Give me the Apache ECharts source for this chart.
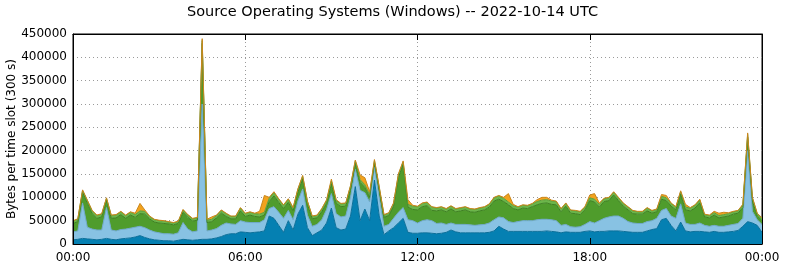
<!DOCTYPE html>
<html>
<head>
<meta charset="utf-8">
<title>Source Operating Systems (Windows)</title>
<script src="https://cdn.jsdelivr.net/npm/echarts@6/dist/echarts.min.js"></script>
<style>
    html, body { margin: 0; padding: 0; background: #fff; }
    #chart { width: 785px; height: 268px; }
</style>
</head>
<body>
<div id="chart"></div>
<script>
    // thousands of bytes per slot, one value every 10 minutes (00:00 .. 24:00), bottom layer first
    var darkBlue = [
        9,10,12,11,10,9,10,12,10,9,
        11,12,13,15,18,14,11,9,8,7,
        7,6,8,10,9,8,9,10,10,11,
        13,16,20,22,22,26,25,24,25,26,
        28,60,55,40,25,50,30,64,83,35,
        18,24,30,45,77,35,30,32,60,123,
        50,75,50,137,60,20,28,35,45,55,
        25,23,23,24,24,23,22,23,25,30,
        26,24,24,24,24,24,24,25,28,38,
        32,27,27,27,27,27,27,27,27,28,
        27,26,24,26,25,25,25,27,28,26,
        27,27,28,28,28,27,26,25,25,25,
        28,31,33,52,55,40,28,47,28,26,
        27,27,26,25,27,25,25,26,27,29,
        38,48,45,40,25
    ];
    var lightBlue = [
        17,18,76,25,22,21,20,66,20,19,
        20,20,21,21,20,21,19,17,16,15,
        15,15,16,36,23,18,19,290,18,19,
        20,24,25,21,20,24,22,22,21,20,
        24,16,25,28,30,22,22,28,35,27,
        20,18,22,29,31,30,28,28,40,37,
        65,35,40,28,40,18,14,20,23,23,
        27,27,22,26,28,27,22,22,17,15,
        16,18,18,17,16,17,18,20,24,20,
        24,21,19,21,23,23,23,25,26,25,
        25,24,16,16,12,11,12,15,20,19,
        23,28,30,32,32,28,22,20,19,19,
        20,19,22,20,21,20,27,39,17,16,
        15,18,14,13,13,13,13,14,15,15,
        17,152,25,12,17
    ];
    var darkGreen = [
        18,20,23,51,33,25,28,16,25,28,
        32,23,28,21,27,29,24,21,21,22,
        21,20,20,22,25,23,23,130,18,18,
        23,26,14,11,12,21,12,16,13,12,
        10,15,23,21,21,17,19,19,21,23,
        16,14,17,13,21,22,22,21,18,13,
        17,11,10,9,15,19,19,26,74,93,
        27,24,28,30,30,22,27,28,27,30,
        27,29,31,28,28,30,31,34,40,38,
        35,36,30,25,27,26,30,32,34,35,
        33,34,29,39,29,29,26,31,45,45,
        29,36,35,45,33,26,25,20,20,20,
        23,16,14,24,17,21,18,21,28,29,
        35,43,18,18,22,18,20,20,22,22,
        23,29,22,8,8
    ];
    var lightGreen = [
        5,5,4,6,6,6,6,4,6,6,
        6,6,6,6,6,6,5,5,5,5,
        4,4,4,5,5,5,5,6,5,5,
        5,6,6,5,5,6,6,6,6,6,
        6,7,7,7,7,7,6,6,6,6,
        5,5,6,6,6,6,6,6,6,5,
        6,6,6,5,6,5,5,6,6,5,
        6,7,7,7,7,7,6,6,6,6,
        6,6,6,6,6,6,6,6,7,7,
        7,6,6,6,6,6,6,7,7,7,
        7,7,6,6,6,6,6,6,6,6,
        6,6,6,6,6,6,6,6,5,5,
        6,5,5,6,6,6,6,5,6,6,
        6,6,5,5,5,5,5,5,5,5,
        6,6,6,5,5
    ];
    var orange = [
        1,1,1,1,1,1,1,1,1,1,
        1,1,1,3,16,3,1,1,1,1,
        1,1,1,1,1,1,1,4,2,5,
        1,1,1,1,1,1,1,1,1,6,
        36,2,2,1,1,1,1,1,2,1,
        1,1,1,2,4,2,1,1,1,2,
        10,15,6,2,2,1,1,1,2,2,
        10,2,1,1,1,1,1,1,1,1,
        1,1,1,1,1,1,1,1,1,1,
        2,18,3,1,1,1,1,4,6,5,
        2,1,1,1,1,1,1,1,6,12,
        3,1,1,1,1,1,1,1,1,1,
        1,1,1,4,5,1,1,2,6,1,
        1,2,1,1,3,5,5,2,1,1,
        1,3,2,1,1
    ];
    var yTickLabels = [0, 50000, 100000, 150000, 200000, 250000, 300000, 350000, 400000, 450000];

    // time slot labels, 00:00 .. 24:00 (shown as 00:00)
    var slots = [];
    for (var i = 0; i < darkBlue.length; i++) {
        var h = Math.floor(i / 6) % 24;
        var m = (i % 6) * 10;
        slots.push((h < 10 ? '0' + h : h) + ':' + (m < 10 ? '0' + m : m));
    }

    var font = 'DejaVu Sans';

    function layer(name, vals, fill, edge) {
        return {
            name: name,
            type: 'line',
            stack: 'os',
            symbol: 'none',
            xAxisIndex: 0,
            yAxisIndex: 0,
            data: vals.map(function (v) { return v * 1000; }),
            lineStyle: { color: edge, width: 1 },
            areaStyle: { color: fill, opacity: 1 },
            itemStyle: { color: fill },
            z: 2
        };
    }

    var chart = echarts.init(document.getElementById('chart'), null, { renderer: 'canvas' });
    var tick = { inside: true, length: 6, interval: 35, lineStyle: { color: '#000', width: 1 } };
    var ytick = { inside: true, length: 6, lineStyle: { color: '#000', width: 1 } };
    var line = { show: true, onZero: false, lineStyle: { color: '#000', width: 1 } };
    var grid = { type: [1, 3], color: '#9a9a9a', width: 1 };
    var yMin = yTickLabels[0], yMax = yTickLabels[yTickLabels.length - 1];

    function xAxisBase(extra) {
        var a = { type: 'category', data: slots, boundaryGap: false };
        for (var k in extra) a[k] = extra[k];
        return a;
    }

    var option = {
        animation: false,
        backgroundColor: '#fff',
        title: {
            text: 'Source Operating Systems (Windows) -- 2022-10-14 UTC',
            left: 'center',
            top: 0,
            textStyle: { fontFamily: font, fontSize: 14.5, fontWeight: 'normal', color: '#000' }
        },
        grid: {
            left: 73, right: 23, top: 34, bottom: 24,
            containLabel: false, outerBoundsMode: 'none',
            show: true, borderColor: '#000', borderWidth: 1
        },
        xAxis: [
            xAxisBase({
                position: 'bottom', z: 5,
                axisLine: line, axisTick: tick, splitLine: { show: false },
                axisLabel: {
                    interval: 35, color: '#000', fontFamily: font, fontSize: 12, margin: 8,
                    formatter: function (v) { return v.slice(0, 2) + ':00'; }
                }
            }),
            xAxisBase({
                position: 'top', z: 5,
                axisLine: line, axisTick: tick, axisLabel: { show: false }, splitLine: { show: false }
            }),
            xAxisBase({
                position: 'bottom', z: 0,
                axisLine: { show: false }, axisTick: { show: false }, axisLabel: { show: false },
                splitLine: { show: true, interval: 35, lineStyle: grid }
            })
        ],
        yAxis: [
            {
                type: 'value', position: 'left', min: yMin, max: yMax, interval: 50000, z: 5,
                name: 'Bytes per time slot (300 s)',
                nameLocation: 'middle',
                nameGap: 55,
                nameMoveOverlap: false,
                nameTextStyle: { fontFamily: font, fontSize: 12, color: '#000' },
                axisLine: line, axisTick: ytick, splitLine: { show: false },
                axisLabel: { formatter: function (v) { return String(v); }, color: '#000', fontFamily: font, fontSize: 12, margin: 6 }
            },
            {
                type: 'value', position: 'right', min: yMin, max: yMax, interval: 50000, z: 5,
                axisLine: line, axisTick: ytick, axisLabel: { show: false }, splitLine: { show: false }
            },
            {
                type: 'value', position: 'left', min: yMin, max: yMax, interval: 50000, z: 0,
                axisLine: { show: false }, axisTick: { show: false }, axisLabel: { show: false },
                splitLine: { show: true, lineStyle: grid }
            }
        ],
        series: [
            layer('blue', darkBlue, '#0580b2', '#0a6f9a'),
            layer('light blue', lightBlue, '#88c2e3', '#6fa9cb'),
            layer('green', darkGreen, '#4f9c2c', '#3e8122'),
            layer('light green', lightGreen, '#6cb64b', '#58a03a'),
            layer('orange', orange, '#f2a21e', '#c9861c')
        ]
    };
    chart.setOption(option);
</script>
</body>
</html>
